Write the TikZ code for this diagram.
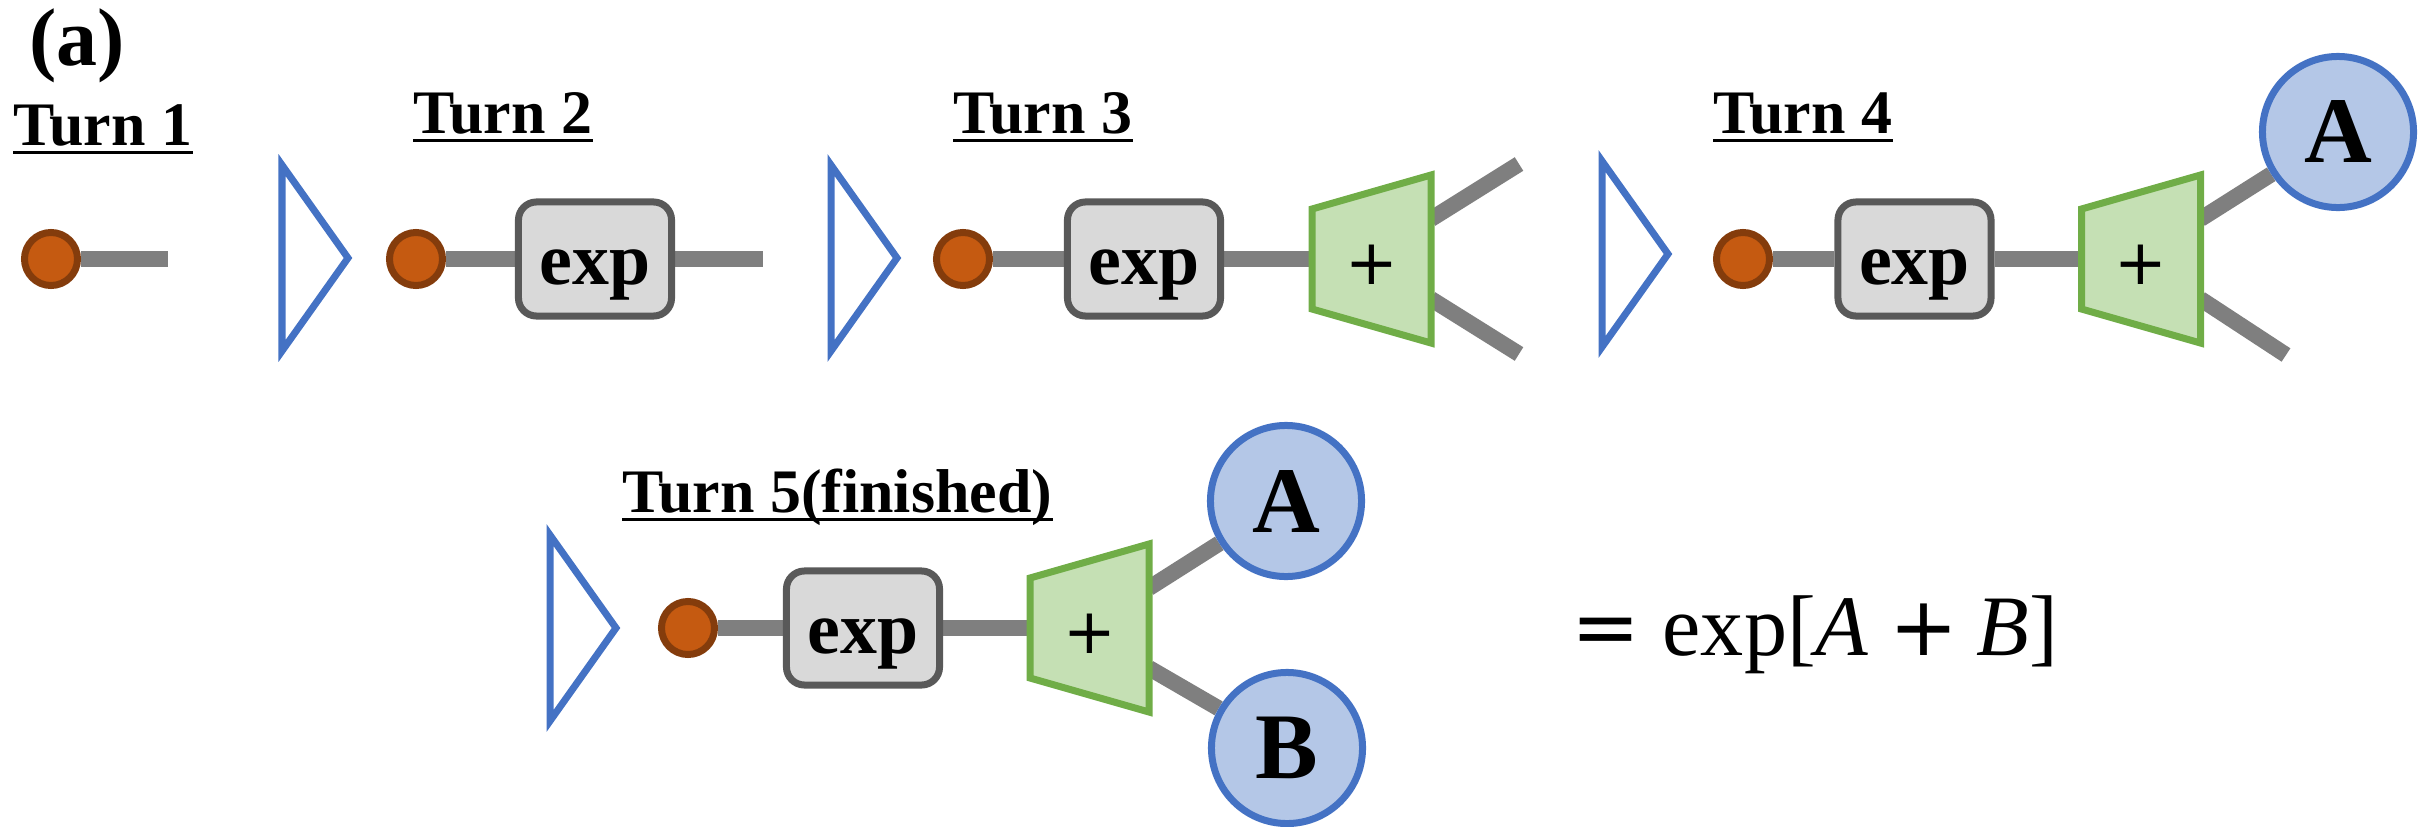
\documentclass[tikz,border=0pt]{standalone}
\usepackage{fontspec}
\setmainfont{Liberation Serif}
\newfontfamily\opfont{DejaVu Sans}
\usetikzlibrary{calc}
\pgfdeclarelayer{background}
\pgfsetlayers{background,main}

\definecolor{seedfill}{HTML}{C55A11}
\definecolor{seedline}{HTML}{843C0C}
\definecolor{wiregray}{HTML}{7F7F7F}
\definecolor{boxfill}{HTML}{D9D9D9}
\definecolor{boxline}{HTML}{595959}
\definecolor{addfill}{HTML}{C5E0B4}
\definecolor{addline}{HTML}{70AD47}
\definecolor{leaffill}{HTML}{B4C7E7}
\definecolor{leafline}{HTML}{4472C4}

\tikzset{
  seed/.style={circle, fill=seedfill, draw=seedline, line width=0.07cm,
    minimum size=0.53cm, inner sep=0pt},
  expbox/.style={rectangle, rounded corners=0.18cm, fill=boxfill, draw=boxline,
    line width=0.07cm, minimum width=1.53cm, minimum height=1.14cm, inner sep=0pt,
    text height=0.66cm, text depth=0.16cm,
    font=\fontsize{21}{25}\selectfont\bfseries},
  adderedge/.style={fill=addfill, draw=addline, line width=0.07cm},
  plussign/.style={inner sep=0pt, font=\opfont\fontsize{17.9}{21}\selectfont},
  leaf/.style={circle, fill=leaffill, draw=leafline, line width=0.07cm,
    minimum size=1.51cm, inner sep=0pt, font=\fontsize{26.7}{30}\selectfont\bfseries},
  wire/.style={draw=wiregray, line width=0.16cm},
  sepmark/.style={draw=leafline, line width=0.07cm},
  turnlabel/.style={anchor=base west, inner sep=0pt,
    font=\fontsize{17.6}{21}\selectfont\bfseries},
  uline/.style={line width=0.03cm},
}

% adder block: trapezoid with a "+" and three ports
\newcommand\adderat[3]{%
  \coordinate (#1) at (#2,#3);
  \filldraw[adderedge] ($(#1)+(-59.5,-50)$) -- ($(#1)+(59.5,-84)$)
    -- ($(#1)+(59.5,84)$) -- ($(#1)+(-59.5,50)$) -- cycle;
  \node[plussign] (#1-op) at ($(#1)+(0,6)$) {+};
  \coordinate (#1-in) at ($(#1)+(-59.5,0)$);
  \coordinate (#1-up) at ($(#1)+(59.5,-40)$);
  \coordinate (#1-dn) at ($(#1)+(59.5,40)$);
}
% turn separator (open triangle)
\newcommand\sepat[2]{%
  \draw[sepmark] (#1,#2-93) -- (#1+66,#2) -- (#1,#2+93) -- cycle;
}
% underlined turn title
\newcommand\turntitle[4]{%
  \node[turnlabel] (#1) at (#2,#3) {#4};
  \draw[uline] ([yshift=-0.07cm]#1.base west) -- ([yshift=-0.07cm]#1.base east);
}

\begin{document}
\begin{tikzpicture}[x=0.01cm, y=-0.01cm]
\useasboundingbox (0,0) rectangle (2423,827);

% panel tag
\node[anchor=base west, inner sep=0pt, font=\fontsize{23.3}{27}\selectfont\bfseries]
  (tag) at (29,65) {(a)};

% ---------- Turn 1 ----------
\turntitle{t1}{13}{145}{Turn 1}
\node[seed] (s1) at (51,259) {};
\coordinate (e1) at (168,259);

% ---------- Turn 2 ----------
\sepat{282}{258}
\turntitle{t2}{413}{133}{Turn 2}
\node[seed] (s2) at (416,259) {};
\node[expbox] (b2) at (595,259) {exp};
\coordinate (e2) at (763,259);

% ---------- Turn 3 ----------
\sepat{831}{258}
\turntitle{t3}{953}{133}{Turn 3}
\node[seed] (s3) at (963,259) {};
\node[expbox] (b3) at (1144,259) {exp};
\adderat{a3}{1371.5}{259}
\coordinate (u3) at (1519,164);
\coordinate (d3) at (1519,354);

% ---------- Turn 4 ----------
\sepat{1602}{254}
\turntitle{t4}{1713}{133}{Turn 4}
\node[seed] (s4) at (1743,259) {};
\node[expbox] (b4) at (1914.5,259) {exp};
\adderat{a4}{2141}{259}
\node[leaf] (A4) at (2338,132) {A};
\coordinate (d4) at (2286,355);

% ---------- Turn 5 ----------
\sepat{550}{628}
\turntitle{t5}{622}{512}{Turn 5(finished)}
\node[seed] (s5) at (688,628) {};
\node[expbox] (b5) at (863,628) {exp};
\adderat{a5}{1089.5}{628}
\node[leaf] (A5) at (1286,501) {A};
\node[leaf] (B5) at (1287,748) {B};

% resulting expression
\node[anchor=base west, inner sep=0pt, font=\fontsize{24.5}{29}\selectfont]
  (res) at (1571,655)
  {{\opfont\fontsize{23.4}{28}\selectfont =}\hspace{0.22cm}exp[\textit{A}\hspace{0.21cm}{\opfont\fontsize{23.4}{28}\selectfont +}\hspace{0.18cm}\textit{B}]};

% ---------- wires ----------
\begin{pgfonlayer}{background}
  \draw[wire] (s1) -- (e1);
  \draw[wire] (s2) -- (b2);
  \draw[wire] (b2) -- (e2);
  \draw[wire] (s3) -- (b3);
  \draw[wire] (b3) -- (a3-in);
  \draw[wire] (a3-up) -- (u3);
  \draw[wire] (a3-dn) -- (d3);
  \draw[wire] (s4) -- (b4);
  \draw[wire] (b4) -- (a4-in);
  \draw[wire] (a4-up) -- (A4);
  \draw[wire] (a4-dn) -- (d4);
  \draw[wire] (s5) -- (b5);
  \draw[wire] (b5) -- (a5-in);
  \draw[wire] (a5-up) -- (A5);
  \draw[wire] (a5-dn) -- (B5);
\end{pgfonlayer}
\end{tikzpicture}
\end{document}
